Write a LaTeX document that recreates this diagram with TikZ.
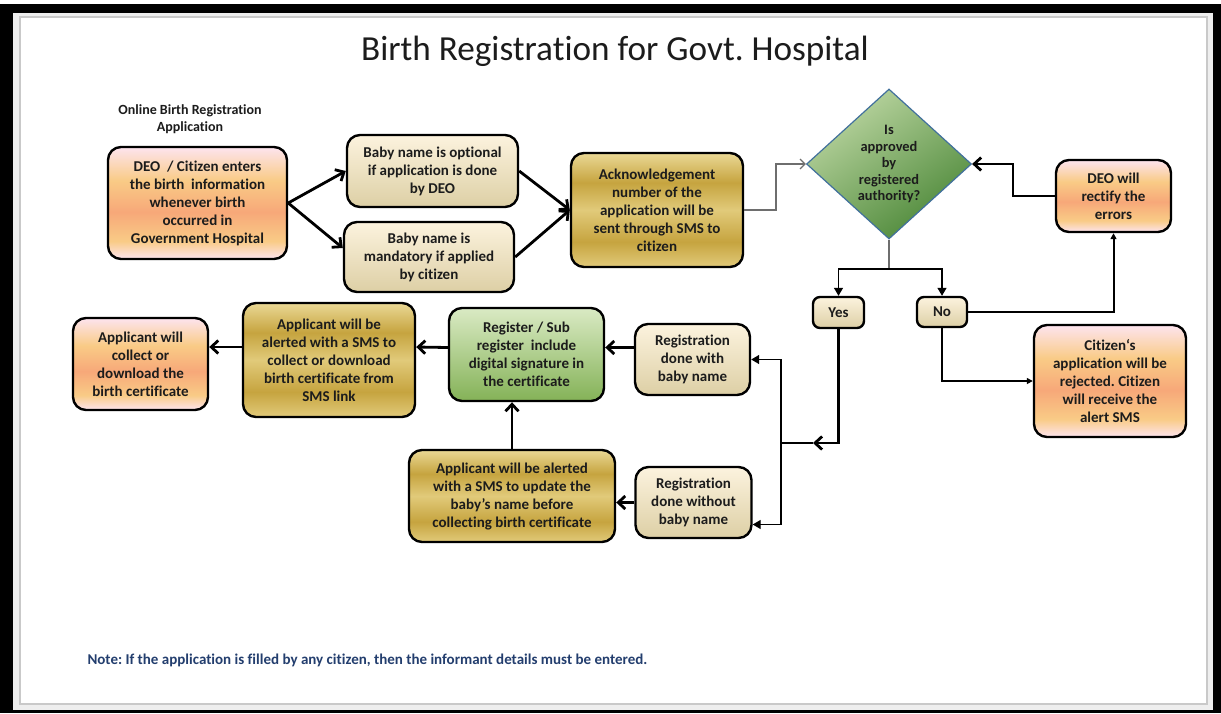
\documentclass[tikz,border=0pt]{standalone}
\usepackage{fontspec}
\setmainfont[Ligatures=NoCommon]{Carlito}
\frenchspacing
\usetikzlibrary{arrows.meta,shapes.geometric,calc}

\definecolor{txt}{HTML}{1C1C1C}
\definecolor{pinkL}{HTML}{FDE4EF}
\definecolor{peachA}{HTML}{F9CB86}
\definecolor{peachB}{HTML}{F7A879}
\definecolor{creamL}{HTML}{FCF3DE}
\definecolor{creamD}{HTML}{DDCFA5}
\definecolor{goldL}{HTML}{EAD895}
\definecolor{goldD}{HTML}{C6A43F}
\definecolor{goldM}{HTML}{E1CA7A}
\definecolor{greenL}{HTML}{DAEAC4}
\definecolor{greenD}{HTML}{84B257}
\definecolor{diaL}{HTML}{BCD6A2}
\definecolor{diaD}{HTML}{4C8838}
\definecolor{diaEdge}{HTML}{41709C}
\definecolor{noteblue}{HTML}{233E6E}
\definecolor{framegray}{HTML}{EEEEEE}
\definecolor{linegray}{HTML}{C9C9C9}
\definecolor{stemgray}{HTML}{6E6E6E}

\pgfdeclareverticalshading{peachshade}{100bp}{color(0bp)=(pinkL); color(25bp)=(pinkL); color(33bp)=(peachA); color(46bp)=(peachB); color(60bp)=(peachA); color(75bp)=(pinkL); color(100bp)=(pinkL)}
\pgfdeclareverticalshading{creamshade}{100bp}{color(0bp)=(creamD); color(25bp)=(creamD); color(75bp)=(creamL); color(100bp)=(creamL)}
\pgfdeclareverticalshading{goldshade}{100bp}{color(0bp)=(goldM); color(25bp)=(goldM); color(36bp)=(goldD); color(50bp)=(goldM); color(62bp)=(goldD); color(75bp)=(goldL); color(100bp)=(goldL)}

\def\boxfont{\bfseries\fontsize{15}{18}\selectfont}

\tikzset{
  box/.style={draw=black, line width=2.4pt, rounded corners=13pt, align=center, inner sep=2pt, text=txt, font=\boxfont},
  peachbox/.style={box, shading=peachshade},
  creambox/.style={box, shading=creamshade},
  goldbox/.style={box, shading=goldshade},
  greenbox/.style={box, top color=greenL, bottom color=greenD},
  decision/.style={diamond, draw=diaEdge, line width=1.2pt, inner sep=0pt, align=center, text=txt,
    top color=diaL, bottom color=diaD, shading angle=35, font={\bfseries\fontsize{14.4}{16.5}\selectfont}},
  thickarr/.style={line width=2.8pt, -{Straight Barb[length=7pt,width=13pt]}},
  midarr/.style={line width=2pt, -{Triangle[length=6pt,width=6pt]}},
  forkarr/.style={line width=1.3pt, -{Triangle[length=8pt,width=9pt]}},
  greyarr/.style={line width=1.2pt, draw=stemgray, -{Straight Barb[length=5pt,width=10pt]}},
  greyline/.style={line width=1.5pt, draw=stemgray},
  thinline/.style={line width=1.3pt}
}

\begin{document}
\begin{tikzpicture}[x=1pt,y=-1pt]
  %%%%% START %%%%%
  \useasboundingbox (0,0) rectangle (1221,713);
  \fill[black] (0,4) rectangle (1221,713);
  \fill[framegray] (13,13) rectangle (1213,710);
  \draw[fill=white, draw=linegray, line width=1.5pt] (20,17) rectangle (1207,704);

  \node[font=\fontsize{35.2}{42}\selectfont, text=txt] (title) at (615,51) {Birth Registration for Govt. Hospital};
  \node[font={\bfseries\fontsize{14}{17}\selectfont}, align=center, text=txt] (online) at (190,119) {Online Birth Registration\\Application};

  % top row
  \node[peachbox, minimum width=179pt, minimum height=112pt] (deo) at (197.5,203) {DEO \ / Citizen enters\\the birth \ information\\whenever birth\\occurred in\\Government Hospital};
  \node[creambox, minimum width=171pt, minimum height=72pt] (opt) at (432.5,171) {Baby name is optional\\if application is done\\by DEO};
  \node[creambox, minimum width=170pt, minimum height=70pt] (mand) at (429,257) {Baby name is\\mandatory if applied\\by citizen};
  \node[goldbox, minimum width=172pt, minimum height=114pt] (ack) at (657,210) {Acknowledgement\\number of the\\application will be\\sent through SMS to\\citizen};
  \node[decision, minimum width=165pt, minimum height=150pt] (dia) at (889,164) {Is\\approved\\by\\registered\\authority?};
  \node[peachbox, minimum width=115pt, minimum height=72pt] (fix) at (1113.5,196) {DEO will\\rectify the\\errors};

  \node[creambox, rounded corners=7pt, minimum width=51pt, minimum height=31pt] (yes) at (838.5,312.5) {Yes};
  \node[creambox, rounded corners=7pt, minimum width=50pt, minimum height=30pt] (no) at (942,312) {No};
  \node[peachbox, minimum width=152pt, minimum height=112pt] (reject) at (1110,381) {Citizen‘s\\application will be\\rejected. Citizen\\will receive the\\alert SMS};

  % bottom rows
  \node[creambox, minimum width=115pt, minimum height=71pt] (regwith) at (692.5,359.5) {Registration\\done with\\baby name};
  \node[creambox, minimum width=116pt, minimum height=71pt] (regwo) at (693.5,502.5) {Registration\\done without\\baby name};
  \node[greenbox, minimum width=155pt, minimum height=93pt] (green) at (526.5,354.5) {Register / Sub\\register \ include\\digital signature in\\the certificate};
  \node[goldbox, minimum width=172pt, minimum height=114pt] (sms) at (329,360) {Applicant will be\\alerted with a SMS to\\collect or download\\birth certificate from\\SMS link};
  \node[peachbox, minimum width=135pt, minimum height=92pt] (collect) at (140.5,364) {Applicant will\\collect or\\download the\\birth certificate};
  \node[goldbox, minimum width=206pt, minimum height=92pt] (update) at (512,496) {Applicant will be alerted\\with a SMS to update the\\baby's name before\\collecting birth certificate};

  \node[anchor=west, text=noteblue, font={\bfseries\fontsize{15}{17}\selectfont}] (note) at (84,660) {Note: If the application is filled by any citizen, then the informant details must be entered.};

  % connectors
  \draw[thickarr] (deo.east) -- (opt.west);
  \draw[thickarr] (deo.east) -- ([yshift=9pt]mand.west);
  \draw[thickarr] (opt.east) -- (ack.west);
  \draw[thickarr] (mand.east) -- (ack.west);

  \coordinate (ackbend) at (776,210);
  \draw[greyarr] (ack.east) -- (ackbend) |- (dia.west);
  \coordinate (fork) at (889,269);
  \draw[greyline] (dia.south) -- (fork);
  \draw[forkarr] (fork) -| (yes.north);
  \draw[forkarr] (fork) -| (no.north);

  \coordinate (fixbend) at (1013,196);
  \draw[thickarr] (fix.west) -- (fixbend) |- (dia.east);
  \draw[midarr] (no.east) -| (fix.south);
  \draw[midarr] (no.south) |- (reject.west);

  \coordinate (yesend) at (813,443);
  \coordinate (split) at (781,443);
  \draw[thickarr] (yes.south) |- (yesend);
  \draw[thinline] (yesend) -- (split);
  \draw[forkarr] (split) |- (regwith.east);
  \draw[forkarr] (split) |- ([yshift=-22pt]regwo.east);

  \draw[thickarr] ([yshift=12pt]regwith.west) -- ([yshift=7pt]green.east);
  \draw[thickarr] ([yshift=7pt]green.west) -- ([yshift=13pt]sms.east);
  \draw[thickarr] ([yshift=13pt]sms.west) -- ([yshift=17pt]collect.east);
  \draw[thickarr] (regwo.west) -- (regwo.west -| update.east);
  \draw[thickarr] (update.north) -- (update.north |- green.south);
  %%%%% END %%%%%
\end{tikzpicture}
\end{document}
